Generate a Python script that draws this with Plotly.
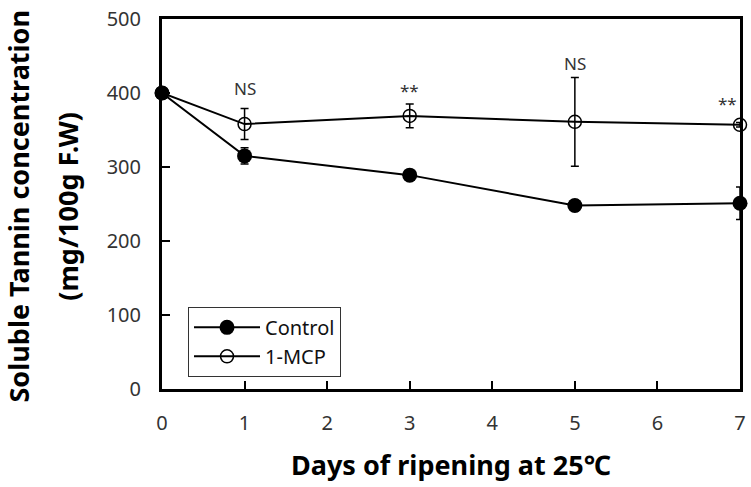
import plotly.graph_objects as go

days = [0, 1, 3, 5, 7]
control = [400, 315, 289, 248, 251]
control_err = [4, 11, 6, 7, 22]
mcp = [400, 358, 369, 361, 357]
mcp_err = [4, 21, 16, 60, 3]
sig_labels = ["NS", "**", "NS", "**"]
sig_days = [1, 3, 5, 7]
sig_y = [406, 404, 440, 386]
x_ticks = [0, 1, 2, 3, 4, 5, 6, 7]
y_ticks = [0, 100, 200, 300, 400, 500]

FONT = "Noto Sans"

fig = go.Figure()
fig.add_trace(go.Scatter(
    x=days, y=mcp, name="1-MCP", mode="lines+markers",
    line=dict(color="black", width=2),
    marker=dict(symbol="circle-open", size=13, color="black", line=dict(width=1.5)),
    error_y=dict(type="data", array=mcp_err, visible=True, color="black", thickness=1.5, width=4),
    cliponaxis=False, legendrank=2,
))
fig.add_trace(go.Scatter(
    x=days, y=control, name="Control", mode="lines+markers",
    line=dict(color="black", width=2),
    marker=dict(symbol="circle", size=15, color="black"),
    error_y=dict(type="data", array=control_err, visible=True, color="black", thickness=1.5, width=4),
    cliponaxis=False, legendrank=1,
))

for d, lab, yy in zip(sig_days, sig_labels, sig_y):
    fig.add_annotation(x=d, y=yy, text=lab, showarrow=False,
                       xshift=-13 if d == 7 else 0,
                       font=dict(family=FONT, size=17, color="#333"))

# axis titles
title_font = dict(family=FONT, size=27, color="black")
fig.add_annotation(xref="paper", yref="paper", x=-0.248, y=0.495, xanchor="center", yanchor="middle",
                   text="<b>Soluble Tannin concentration</b>",
                   textangle=-90, showarrow=False, font=title_font)
fig.add_annotation(xref="paper", yref="paper", x=-0.163, y=0.495, xanchor="center", yanchor="middle",
                   text="<b>(mg/100g F.W)</b>",
                   textangle=-90, showarrow=False, font=title_font)
fig.add_annotation(xref="paper", yref="paper", x=0.5, y=-0.204, xanchor="center", yanchor="middle",
                   text="<b>Days of ripening at 25℃</b>",
                   showarrow=False, font=title_font)

fig.update_layout(
    width=751, height=487,
    margin=dict(l=162, r=5, t=17, b=98),
    plot_bgcolor="white", paper_bgcolor="white",
    font=dict(family=FONT, color="#222"),
    showlegend=True,
    legend=dict(x=0.045, y=0.222, xanchor="left", yanchor="top",
                bgcolor="white", bordercolor="#333", borderwidth=1,
                font=dict(family=FONT, size=20, color="#111"),
                tracegroupgap=0, itemwidth=66),
    xaxis=dict(range=[0, 7], tickvals=x_ticks, ticks="inside", ticklen=8, tickwidth=2,
               tickcolor="black", showline=True, linecolor="black", linewidth=3, mirror=True,
               showgrid=False, zeroline=False, ticklabelstandoff=14,
               tickfont=dict(family=FONT, size=20, color="#333")),
    yaxis=dict(range=[0, 500], tickvals=y_ticks, ticks="inside", ticklen=8, tickwidth=2,
               tickcolor="black", showline=True, linecolor="black", linewidth=3, mirror=True,
               showgrid=False, zeroline=False, ticklabelstandoff=14,
               tickfont=dict(family=FONT, size=20, color="#333")),
)

fig.write_html("out.html")
